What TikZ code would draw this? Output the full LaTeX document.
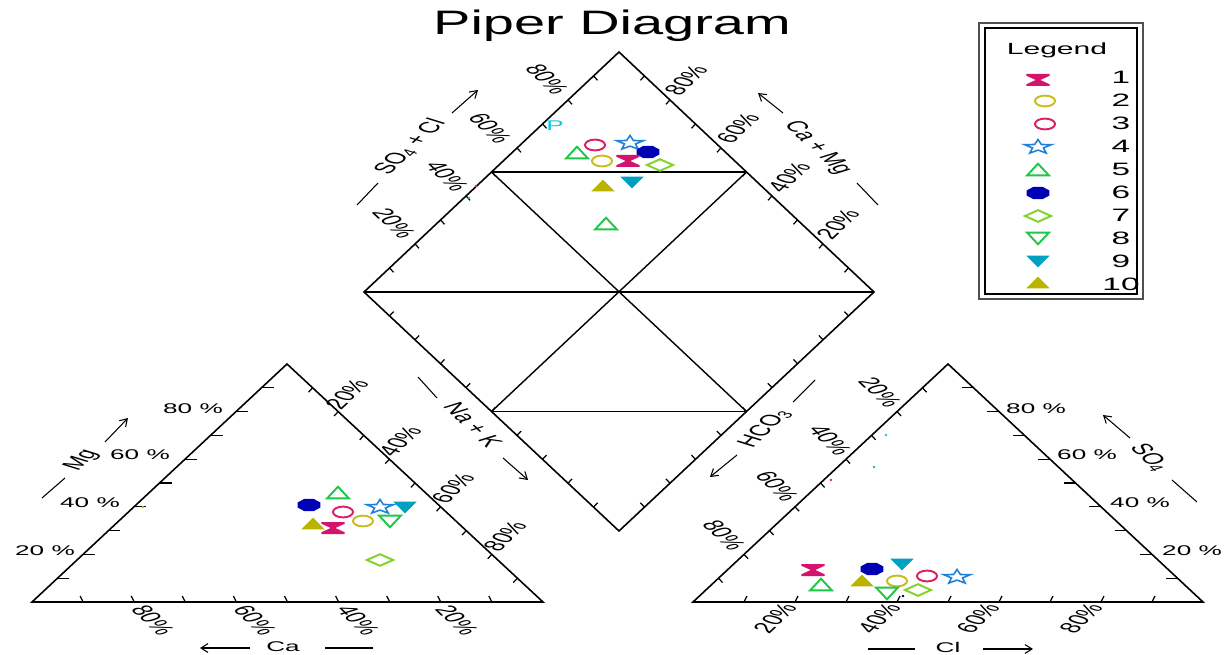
\documentclass[tikz,border=0pt]{standalone}
\usepackage{fontspec}
\setmainfont{Liberation Sans}
\usepackage{graphicx}
\usetikzlibrary{calc,arrows.meta}
\definecolor{cA}{RGB}{212,20,108}
\definecolor{cB}{RGB}{200,188,30}
\definecolor{cC}{RGB}{222,30,100}
\definecolor{cD}{RGB}{30,130,220}
\definecolor{cE}{RGB}{30,200,70}
\definecolor{cF}{RGB}{0,0,180}
\definecolor{cG}{RGB}{130,210,40}
\definecolor{cI}{RGB}{0,160,195}
\definecolor{cJ}{RGB}{185,180,0}
\definecolor{cP}{RGB}{0,205,225}
\definecolor{legframe}{RGB}{80,80,80}
\newcommand{\SX}{1.86}
\newcommand{\fLab}{\fontsize{8}{9}\selectfont}
\newcommand{\fRot}{\fontsize{8.8}{10}\selectfont}
\newcommand{\fLeg}{\fontsize{10.2}{11}\selectfont}
\newcommand{\fLegT}{\fontsize{9.2}{10}\selectfont}
% text label, rotated first and then stretched sideways: name, x, y, angle, font, text
\newcommand{\plab}[6]{%
  \pgfmathsetmacro{\plA}{\SX*cos(#4)}%
  \pgfmathsetmacro{\plB}{sin(#4)}%
  \pgfmathsetmacro{\plC}{-\SX*sin(#4)}%
  \pgfmathsetmacro{\plD}{cos(#4)}%
  \begin{scope}[shift={(#2,#3)},cm={\plA,\plB,\plC,\plD,(0,0)}]\node[transform shape,inner sep=0pt,font=#5] (#1) at (0,0) {#6};\end{scope}}
% marker placed at x, y
\newcommand{\mk}[3]{\begin{scope}[shift={(#1,#2)},xscale=\SX]#3\end{scope}}
\newcommand{\mHour}{\fill[cA] (-6.2,-6)--(6.2,-6)--(6.2,-4.2)--(1.2,0)--(6.2,4.2)--(6.2,6)--(-6.2,6)--(-6.2,4.2)--(-1.2,0)--(-6.2,-4.2)--cycle;}
\newcommand{\mCircY}{\draw[cB,mkline] (0,0) circle[radius=5.4];}
\newcommand{\mCircM}{\draw[cC,mkline] (0,0) circle[radius=5.4];}
\newcommand{\mStar}{\draw[cD,line width=0.9pt,line join=miter] (-90:7.5)--(-54:3.1)--(-18:7.5)--(18:3.1)--(54:7.5)--(90:3.1)--(126:7.5)--(162:3.1)--(198:7.5)--(234:3.1)--cycle;}
\newcommand{\mTriUp}{\draw[cE,mkline] (0,-6.3)--(5.8,5.3)--(-5.8,5.3)--cycle;}
\newcommand{\mOct}{\fill[cF] (22.5:6.6)--(67.5:6.6)--(112.5:6.6)--(157.5:6.6)--(202.5:6.6)--(247.5:6.6)--(292.5:6.6)--(337.5:6.6)--cycle;}
\newcommand{\mDiam}{\draw[cG,mkline] (-7,0)--(0,-5.8)--(7,0)--(0,5.8)--cycle;}
\newcommand{\mTriDn}{\draw[cE,mkline] (0,6.3)--(5.8,-5.3)--(-5.8,-5.3)--cycle;}
\newcommand{\mTriDnF}{\fill[cI] (0,6.3)--(6.3,-5.3)--(-6.3,-5.3)--cycle;}
\newcommand{\mTriUpF}{\fill[cJ] (0,-6.3)--(6.3,5.3)--(-6.3,5.3)--cycle;}
\begin{document}
\begin{tikzpicture}[x=0.02cm,y=-0.02cm,
  triedge/.style={line width=0.9pt,line join=miter},
  innerln/.style={line width=0.8pt},
  tk/.style={line width=0.7pt},
  axln/.style={line width=0.6pt},
  axarr/.style={line width=0.6pt,-{Straight Barb[length=4pt,width=5pt]}},
  mkline/.style={line width=1.1pt}]
\fill[white] (0,0) rectangle (1231,655);
\useasboundingbox (0,0) rectangle (1231,655);

% ---------- frame coordinates
\coordinate (L1) at (32,602); \coordinate (LA) at (287,364); \coordinate (L2) at (543,602);
\coordinate (R1) at (693,602); \coordinate (RA) at (948,364); \coordinate (R2) at (1203,602);
\coordinate (DT) at (619,52); \coordinate (DL) at (364,292); \coordinate (DR) at (874,292); \coordinate (DB) at (619,531);
\coordinate (M1) at ($(DL)!0.5!(DT)$); \coordinate (M2) at ($(DR)!0.5!(DT)$);
\coordinate (M3) at ($(DL)!0.5!(DB)$); \coordinate (M4) at ($(DR)!0.5!(DB)$);

\draw[triedge] (L1) -- (LA) -- (L2) -- cycle;
\draw[triedge] (R1) -- (RA) -- (R2) -- cycle;
\draw[triedge] (DT) -- (DL) -- (DB) -- (DR) -- cycle;
\draw[innerln] (M1) -- (M2);
\draw[innerln] (M3) -- (M4);
\draw[innerln] (DL) -- (DR);
\draw[innerln] (M1) -- (M4);
\draw[innerln] (M2) -- (M3);

% ---------- ticks
\foreach \k in {1,...,9}{
  \draw[tk] ($(L1)!\k/10!(LA)$) -- ++(12,0);
  \draw[tk] ($(L1)!\k/10!(L2)$) -- ++(-3,-6);
  \draw[tk] ($(LA)!\k/10!(L2)$) -- ++(-4.1,4.4);
  \draw[tk] ($(R1)!\k/10!(RA)$) -- ++(4.1,4.4);
  \draw[tk] ($(R1)!\k/10!(R2)$) -- ++(3,-6);
  \draw[tk] ($(RA)!\k/10!(R2)$) -- ++(-12,0);
  \draw[tk] ($(DL)!\k/10!(DT)$) -- ++(4.1,4.3);
  \draw[tk] ($(DR)!\k/10!(DT)$) -- ++(-4.1,4.3);
  \draw[tk] ($(DL)!\k/10!(DB)$) -- ++(4.1,-4.3);
  \draw[tk] ($(DR)!\k/10!(DB)$) -- ++(-4.1,-4.3);
}

% ---------- title
\begin{scope}[shift={(612,26)},xscale=1.65]
  \node[transform shape,inner sep=0pt,font=\fontsize{19.3}{22}\selectfont] (title) at (0,0) {Piper Diagram};
\end{scope}

% ---------- left triangle labels
\plab{lm80}{193}{409}{0}{\fLab}{80 \%}
\plab{lm60}{140}{455}{0}{\fLab}{60 \%}
\plab{lm40}{90}{503}{0}{\fLab}{40 \%}
\plab{lm20}{45}{551}{0}{\fLab}{20 \%}
\plab{lc80}{153}{620}{-60}{\fRot}{80\%}
\plab{lc60}{255}{620}{-60}{\fRot}{60\%}
\plab{lc40}{358}{620}{-60}{\fRot}{40\%}
\plab{lc20}{457}{620}{-60}{\fRot}{20\%}
\plab{ln20}{347}{394}{60}{\fRot}{20\%}
\plab{ln40}{400}{441}{60}{\fRot}{40\%}
\plab{ln60}{453}{488}{60}{\fRot}{60\%}
\plab{ln80}{505}{536}{60}{\fRot}{80\%}

% ---------- right triangle labels
\plab{rh20}{880}{392}{-60}{\fRot}{20\%}
\plab{rh40}{830}{440}{-60}{\fRot}{40\%}
\plab{rh60}{777}{486}{-60}{\fRot}{60\%}
\plab{rh80}{724}{535}{-60}{\fRot}{80\%}
\plab{rc20}{775}{618}{60}{\fRot}{20\%}
\plab{rc40}{879}{618}{60}{\fRot}{40\%}
\plab{rc60}{978}{618}{60}{\fRot}{60\%}
\plab{rc80}{1081}{618}{60}{\fRot}{80\%}
\plab{rs80}{1036}{409}{0}{\fLab}{80 \%}
\plab{rs60}{1087}{455}{0}{\fLab}{60 \%}
\plab{rs40}{1140}{503}{0}{\fLab}{40 \%}
\plab{rs20}{1192}{551}{0}{\fLab}{20 \%}

% ---------- diamond labels
\plab{ds80}{547}{79}{-60}{\fRot}{80\%}
\plab{ds60}{490}{128}{-60}{\fRot}{60\%}
\plab{ds40}{447}{176}{-60}{\fRot}{40\%}
\plab{ds20}{394}{223}{-60}{\fRot}{20\%}
\plab{dc80}{686}{80}{60}{\fRot}{80\%}
\plab{dc60}{738}{128}{60}{\fRot}{60\%}
\plab{dc40}{789}{177}{60}{\fRot}{40\%}
\plab{dc20}{838}{224}{60}{\fRot}{20\%}

% ---------- axis titles
\plab{tMg}{82}{460}{60}{\fRot}{Mg}
\draw[axln] (42,498) -- (65,478);
\draw[axarr] (105,442) -- (128,418);
\plab{tCa}{283}{647}{0}{\fLab}{Ca}
\draw[axarr] (250,648) -- (200,648);
\draw[axln] (325,648) -- (373,648);
\plab{tSC}{410}{147}{60}{\fRot}{SO\textsubscript{4} + Cl}
\draw[axln] (357,205) -- (378,183);
\draw[axarr] (452,113) -- (478,90);
\plab{tCM}{817}{148}{-60}{\fRot}{Ca + Mg}
\draw[axarr] (783,113) -- (758,93);
\draw[axln] (857,183) -- (878,205);
\plab{tNK}{473}{425}{-60}{\fRot}{Na + K}
\draw[axln] (418,377) -- (437,398);
\draw[axarr] (503,458) -- (528,480);
\plab{tHC}{765}{428}{60}{\fRot}{HCO\textsubscript{3}}
\draw[axln] (793,402) -- (815,380);
\draw[axarr] (737,455) -- (710,477);
\plab{tS4}{1150}{458}{-60}{\fRot}{SO\textsubscript{4}}
\draw[axarr] (1130,438) -- (1103,415);
\draw[axln] (1172,480) -- (1197,502);
\plab{tCl}{948}{647}{0}{\fLab}{Cl}
\draw[axln] (868,649) -- (915,649);
\draw[axarr] (983,649) -- (1033,649);

% ---------- legend
\draw[legframe,line width=1.6pt] (979,23) rectangle (1143,299);
\draw[black,line width=0.8pt] (985,28) rectangle (1137,294);
\plab{legT}{1057}{50}{0}{\fLegT}{Legend}
\foreach \i in {1,...,10}{
  \pgfmathsetmacro{\yy}{77+23*(\i-1)}
  \plab{n\i}{1121}{\yy}{0}{\fLeg}{\i}
}
\mk{1038}{80}{\mHour}
\mk{1045}{101}{\mCircY}
\mk{1045}{124}{\mCircM}
\mk{1038}{147}{\mStar}
\mk{1038}{170}{\mTriUp}
\mk{1038}{193}{\mOct}
\mk{1038}{216}{\mDiam}
\mk{1038}{238}{\mTriDn}
\mk{1038}{261}{\mTriDnF}
\mk{1038}{283}{\mTriUpF}

% ---------- data: diamond
\mk{577}{153}{\mTriUp}
\mk{595}{145}{\mCircM}
\mk{630}{143}{\mStar}
\mk{648}{152}{\mOct}
\mk{602}{161}{\mCircY}
\mk{628}{161}{\mHour}
\mk{660}{165}{\mDiam}
\mk{603}{186}{\mTriUpF}
\mk{632}{182}{\mTriDnF}
\mk{606}{224}{\mTriUp}
\plab{pm}{555}{126}{0}{\fLab}{\textcolor{cP}{P}}

% ---------- data: left triangle
\mk{338}{493}{\mTriUp}
\mk{309}{505}{\mOct}
\mk{343}{512}{\mCircM}
\mk{380}{507}{\mStar}
\mk{405}{507}{\mTriDnF}
\mk{313}{524}{\mTriUpF}
\mk{333}{528}{\mHour}
\mk{363}{521}{\mCircY}
\mk{390}{521}{\mTriDn}
\mk{380}{560}{\mDiam}

% ---------- data: right triangle
\mk{813}{570}{\mHour}
\mk{821}{585}{\mTriUp}
\mk{872}{569}{\mOct}
\mk{862}{581}{\mTriUpF}
\mk{902}{564}{\mTriDnF}
\mk{897}{581}{\mCircY}
\mk{927}{576}{\mCircM}
\mk{957}{577}{\mStar}
\mk{887}{593}{\mTriDn}
\mk{918}{590}{\mDiam}

% ---------- tiny specks
\fill[cC] (476,186) circle[radius=1.3];
\fill[cE] (469,198) circle[radius=1.3];
\fill[cJ] (143,507) circle[radius=1.3];
\fill[cP] (886,435) circle[radius=1.3];
\fill[cE] (874,467) circle[radius=1.3];
\fill[cC] (831,480) circle[radius=1.3];
\fill[black] (903,596) circle[radius=1.3];
\end{tikzpicture}
\end{document}
